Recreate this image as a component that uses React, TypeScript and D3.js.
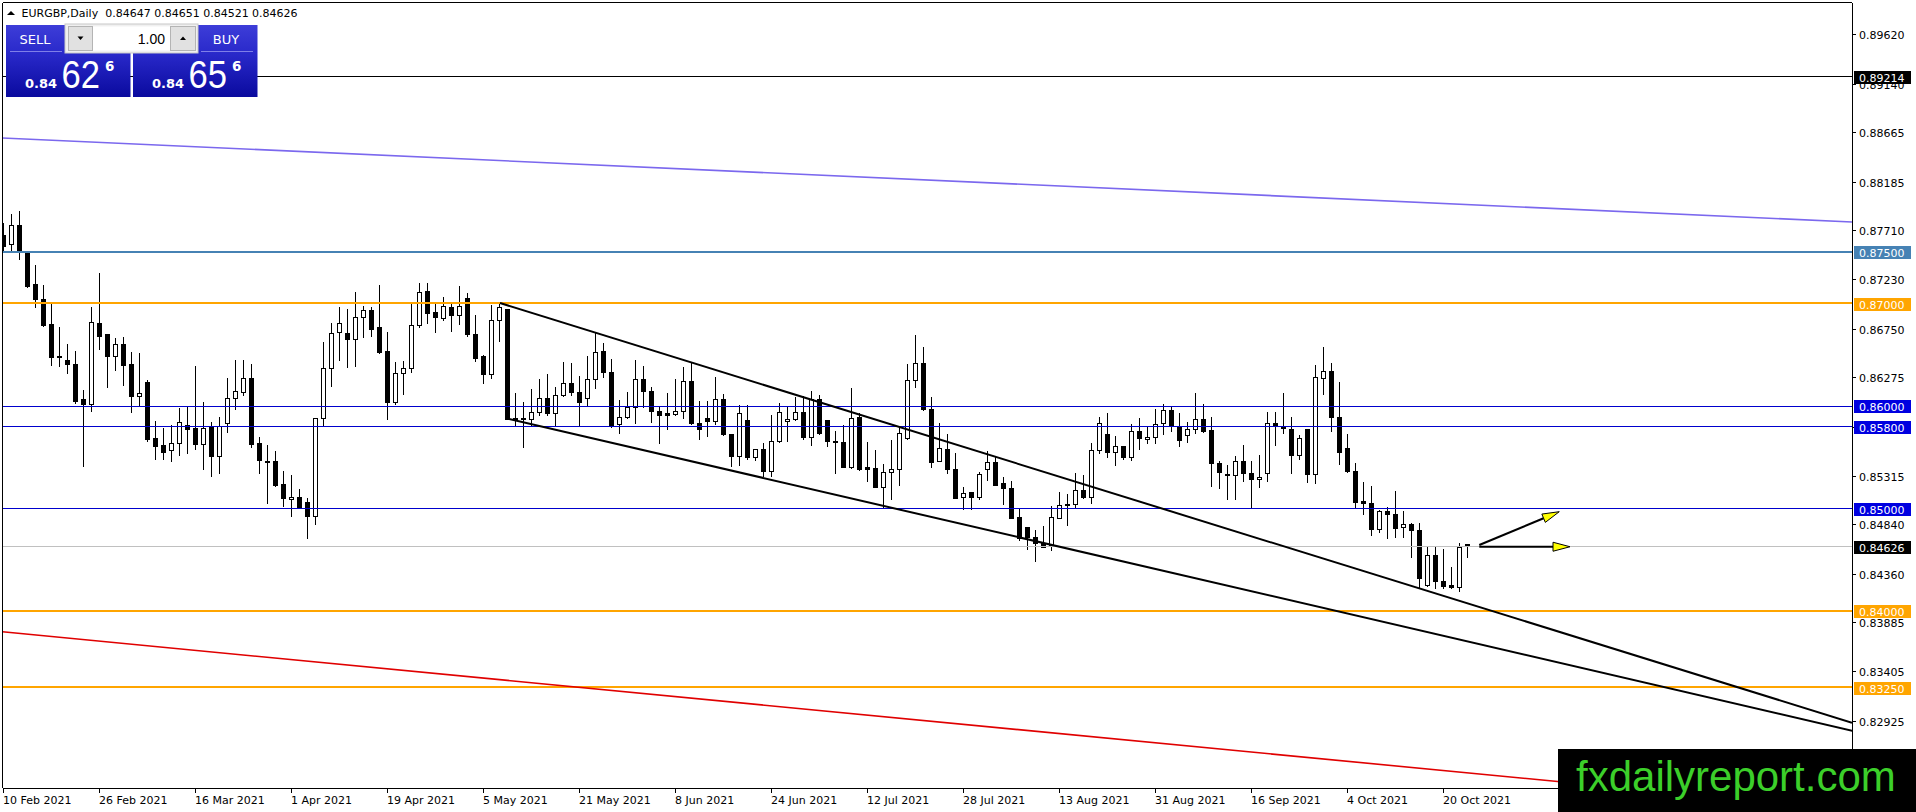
import React from "react";
import * as d3 from "d3";

// ---------- data ----------
const barOpen = [
  0.87663, 0.87576, 0.87761, 0.87495, 0.87185, 0.87035, 0.86795, 0.86480, 0.86444, 0.86405,
  0.86063, 0.86015, 0.86808, 0.86698, 0.86480, 0.86597, 0.86405, 0.86096, 0.86229, 0.85683,
  0.85615, 0.85563, 0.85631, 0.85813, 0.85780, 0.85621, 0.85790, 0.85510, 0.85826, 0.86070,
  0.86129, 0.86265, 0.85631, 0.85456, 0.85456, 0.85231, 0.85085, 0.85104, 0.85055, 0.84919,
  0.85875, 0.86363, 0.86714, 0.86704, 0.86646, 0.86860, 0.86932, 0.86763, 0.86532, 0.86034,
  0.86314, 0.86363, 0.86782, 0.87114, 0.86912, 0.86857, 0.86958, 0.86880, 0.87046, 0.86698,
  0.86486, 0.86304, 0.86834, 0.86939, 0.85881, 0.85881, 0.85865, 0.85940, 0.86070, 0.85924,
  0.86100, 0.86216, 0.86129, 0.86076, 0.86256, 0.86529, 0.86324, 0.85820, 0.85885, 0.85982,
  0.86261, 0.86139, 0.85943, 0.85930, 0.85914, 0.85943, 0.86236, 0.85826, 0.85875, 0.85846,
  0.86066, 0.85719, 0.85504, 0.85859, 0.85495, 0.85573, 0.85364, 0.85651, 0.85849, 0.85865,
  0.85934, 0.85690, 0.86063, 0.85859, 0.85651, 0.85641, 0.85397, 0.85885, 0.85397, 0.85387,
  0.85208, 0.85354, 0.85378, 0.85680, 0.86249, 0.86418, 0.85963, 0.85461, 0.85573, 0.85378,
  0.85104, 0.85156, 0.85110, 0.85378, 0.85452, 0.85241, 0.85192, 0.84909, 0.84812, 0.84720,
  0.84661, 0.84636, 0.84905, 0.85026, 0.85036, 0.85173, 0.85104, 0.85563, 0.85722, 0.85543,
  0.85605, 0.85495, 0.85754, 0.85673, 0.85696, 0.85826, 0.85956, 0.85803, 0.85709, 0.85768,
  0.85868, 0.85761, 0.85436, 0.85332, 0.85319, 0.85456, 0.85338, 0.85280, 0.85338, 0.85826,
  0.85793, 0.85768, 0.85520, 0.85768, 0.85329, 0.86265, 0.86334, 0.85885, 0.85582, 0.85358,
  0.85065, 0.85046, 0.84792, 0.84968, 0.84941, 0.84812, 0.84841, 0.84785, 0.84246, 0.84541,
  0.84288, 0.84249, 0.84226, 0.84647,
];
const barHigh = [
  0.87783, 0.87868, 0.87898, 0.87505, 0.87371, 0.87176, 0.86990, 0.86769, 0.86600, 0.86532,
  0.86151, 0.86964, 0.87296, 0.86700, 0.86659, 0.86671, 0.86522, 0.86509, 0.86249, 0.85852,
  0.85780, 0.85807, 0.85973, 0.85982, 0.86385, 0.86034, 0.85842, 0.85888, 0.86265, 0.86444,
  0.86444, 0.86405, 0.85696, 0.85612, 0.85553, 0.85361, 0.85322, 0.85188, 0.85095, 0.85880,
  0.86617, 0.86802, 0.86958, 0.86941, 0.87107, 0.86971, 0.86958, 0.87173, 0.86717, 0.86424,
  0.86434, 0.86990, 0.87192, 0.87192, 0.86990, 0.87061, 0.86997, 0.87166, 0.87095, 0.86883,
  0.86493, 0.86978, 0.86990, 0.86945, 0.86119, 0.86034, 0.86158, 0.86256, 0.86307, 0.86183,
  0.86421, 0.86412, 0.86291, 0.86486, 0.86704, 0.86607, 0.86451, 0.86054, 0.86132, 0.86444,
  0.86385, 0.86178, 0.85995, 0.86119, 0.86256, 0.86373, 0.86412, 0.86047, 0.86047, 0.86275,
  0.86112, 0.85722, 0.86002, 0.86002, 0.85576, 0.85631, 0.85904, 0.86027, 0.85982, 0.86086,
  0.86093, 0.86144, 0.86100, 0.85862, 0.85748, 0.85813, 0.86171, 0.85930, 0.85647, 0.85566,
  0.85426, 0.85663, 0.85793, 0.86405, 0.86688, 0.86568, 0.86080, 0.85826, 0.85719, 0.85540,
  0.85208, 0.85160, 0.85354, 0.85559, 0.85500, 0.85305, 0.85266, 0.84987, 0.84815, 0.84785,
  0.84824, 0.85020, 0.85159, 0.85137, 0.85344, 0.85322, 0.85631, 0.85885, 0.85924, 0.85702,
  0.85608, 0.85820, 0.85875, 0.85793, 0.85969, 0.86012, 0.85995, 0.85924, 0.85842, 0.86119,
  0.86015, 0.85885, 0.85459, 0.85420, 0.85510, 0.85615, 0.85459, 0.85517, 0.85940, 0.85940,
  0.86125, 0.85891, 0.85712, 0.85771, 0.86395, 0.86574, 0.86418, 0.86232, 0.85719, 0.85436,
  0.85254, 0.85215, 0.84980, 0.85007, 0.85166, 0.84974, 0.84851, 0.84851, 0.84629, 0.84622,
  0.84603, 0.84427, 0.84661, 0.84651,
];
const barLow = [
  0.87500, 0.87510, 0.87426, 0.87159, 0.86958, 0.86780, 0.86395, 0.86389, 0.86320, 0.86021,
  0.85413, 0.85949, 0.86548, 0.86183, 0.86346, 0.86200, 0.85940, 0.86005, 0.85651, 0.85481,
  0.85481, 0.85461, 0.85517, 0.85534, 0.85573, 0.85384, 0.85315, 0.85338, 0.85744, 0.85963,
  0.86100, 0.85598, 0.85338, 0.85046, 0.85215, 0.85020, 0.84922, 0.85007, 0.84704, 0.84844,
  0.85800, 0.86193, 0.86444, 0.86379, 0.86385, 0.86671, 0.86678, 0.86515, 0.85868, 0.86015,
  0.86112, 0.86327, 0.86769, 0.86808, 0.86720, 0.86834, 0.86730, 0.86795, 0.86678, 0.86437,
  0.86220, 0.86271, 0.86632, 0.85865, 0.85810, 0.85592, 0.85810, 0.85907, 0.85904, 0.85800,
  0.86093, 0.86105, 0.85810, 0.85995, 0.86171, 0.86278, 0.85793, 0.85735, 0.85880, 0.85832,
  0.85988, 0.85842, 0.85637, 0.85768, 0.85904, 0.85875, 0.85823, 0.85670, 0.85705, 0.85820,
  0.85716, 0.85410, 0.85420, 0.85475, 0.85468, 0.85312, 0.85312, 0.85648, 0.85651, 0.85862,
  0.85670, 0.85618, 0.85726, 0.85608, 0.85338, 0.85400, 0.85394, 0.85375, 0.85263, 0.85205,
  0.85007, 0.85088, 0.85221, 0.85677, 0.86183, 0.85956, 0.85397, 0.85458, 0.85344, 0.85095,
  0.84987, 0.84987, 0.85085, 0.85273, 0.85221, 0.85036, 0.84899, 0.84688, 0.84597, 0.84486,
  0.84616, 0.84590, 0.84899, 0.84834, 0.85013, 0.85101, 0.85046, 0.85540, 0.85495, 0.85417,
  0.85481, 0.85468, 0.85573, 0.85631, 0.85637, 0.85722, 0.85754, 0.85608, 0.85647, 0.85729,
  0.85744, 0.85218, 0.85192, 0.85088, 0.85088, 0.85266, 0.84997, 0.85208, 0.85263, 0.85615,
  0.85729, 0.85344, 0.85478, 0.85257, 0.85241, 0.86112, 0.85754, 0.85426, 0.85354, 0.85013,
  0.84941, 0.84734, 0.84769, 0.84704, 0.84714, 0.84714, 0.84525, 0.84226, 0.84239, 0.84217,
  0.84217, 0.84217, 0.84193, 0.84521,
];
const barClose = [
  0.87556, 0.87761, 0.87500, 0.87166, 0.87039, 0.86785, 0.86476, 0.86478, 0.86402, 0.86044,
  0.86012, 0.86812, 0.86681, 0.86486, 0.86597, 0.86398, 0.86096, 0.86119, 0.85676, 0.85608,
  0.85549, 0.85631, 0.85836, 0.85774, 0.85621, 0.85777, 0.85510, 0.85803, 0.86070, 0.86139,
  0.86265, 0.85627, 0.85471, 0.85452, 0.85224, 0.85095, 0.85107, 0.85010, 0.84919, 0.85875,
  0.86363, 0.86704, 0.86802, 0.86649, 0.86860, 0.86929, 0.86749, 0.86522, 0.86034, 0.86320,
  0.86363, 0.86782, 0.87110, 0.86905, 0.86860, 0.86968, 0.86880, 0.86968, 0.86695, 0.86466,
  0.86304, 0.86834, 0.86958, 0.85871, 0.85865, 0.85865, 0.85940, 0.86070, 0.85924, 0.86100,
  0.86222, 0.86135, 0.86037, 0.86256, 0.86525, 0.86324, 0.85810, 0.85891, 0.85982, 0.86261,
  0.86139, 0.85943, 0.85904, 0.85904, 0.85949, 0.86236, 0.85826, 0.85768, 0.85846, 0.86066,
  0.85719, 0.85504, 0.85930, 0.85495, 0.85573, 0.85364, 0.85651, 0.85940, 0.85868, 0.85934,
  0.85690, 0.86063, 0.85729, 0.85654, 0.85641, 0.85403, 0.85878, 0.85378, 0.85380, 0.85208,
  0.85354, 0.85378, 0.85729, 0.86249, 0.86418, 0.85963, 0.85452, 0.85582, 0.85378, 0.85101,
  0.85143, 0.85110, 0.85329, 0.85452, 0.85224, 0.85192, 0.84905, 0.84710, 0.84720, 0.84661,
  0.84622, 0.84909, 0.85026, 0.85036, 0.85173, 0.85104, 0.85563, 0.85832, 0.85543, 0.85605,
  0.85495, 0.85754, 0.85680, 0.85696, 0.85817, 0.85956, 0.85800, 0.85666, 0.85768, 0.85868,
  0.85754, 0.85436, 0.85354, 0.85322, 0.85456, 0.85338, 0.85280, 0.85305, 0.85826, 0.85800,
  0.85777, 0.85520, 0.85680, 0.85329, 0.86275, 0.86334, 0.85885, 0.85549, 0.85364, 0.85061,
  0.85046, 0.84792, 0.84971, 0.84941, 0.84808, 0.84841, 0.84785, 0.84314, 0.84541, 0.84288,
  0.84242, 0.84226, 0.84622, 0.84626,
];

const dateLabelBars = [0, 12, 24, 36, 48, 60, 72, 84, 96, 108, 120, 132, 144, 156, 168, 180];
const dateLabels = [
  "10 Feb 2021", "26 Feb 2021", "16 Mar 2021", "1 Apr 2021", "19 Apr 2021", "5 May 2021",
  "21 May 2021", "8 Jun 2021", "24 Jun 2021", "12 Jul 2021", "28 Jul 2021", "13 Aug 2021",
  "31 Aug 2021", "16 Sep 2021", "4 Oct 2021", "20 Oct 2021",
];
const priceTicks = [
  0.8962, 0.8914, 0.88665, 0.88185, 0.8771, 0.8723, 0.8675, 0.86275, 0.85795, 0.85315,
  0.8484, 0.8436, 0.83885, 0.83405, 0.82925,
];
const levelPrices = [0.89214, 0.875, 0.87, 0.86, 0.858, 0.85, 0.84626, 0.84, 0.8325];
const levelKinds = ["black", "steel", "orange", "blue", "blue", "blue", "bid", "orange", "orange"];

const channelUpper: [number, number][] = [[62, 0.87], [231, 0.82905]];
const channelLower: [number, number][] = [[63, 0.85871], [231.04, 0.82827]];
const slateLine: [number, number][] = [[-0.19, 0.8861], [231, 0.8779]];
const redLine: [number, number][] = [[-0.19, 0.83792], [231, 0.82055]];
const arrowUp: [number, number][] = [[184.41, 0.84639], [194.41, 0.84964]];
const arrowFlat: [number, number][] = [[184.41, 0.84622], [195.75, 0.84622]];

const headerText = "EURGBP,Daily  0.84647 0.84651 0.84521 0.84626";
const sellPrice = ["0.84", "62", "6"];
const buyPrice = ["0.84", "65", "6"];
const lotText = "1.00";
const watermark = "fxdailyreport.com";

// ---------- styles ----------
const FONT = "'DejaVu Sans', Verdana, sans-serif";
const SANS = "'Liberation Sans', Arial, sans-serif";
const kindStyle: Record<string, { line: string; width: number; box: string }> = {
  black: { line: "#000000", width: 1, box: "#000000" },
  steel: { line: "#4682B4", width: 2, box: "#4682B4" },
  orange: { line: "#FFA500", width: 2, box: "#FFA500" },
  blue: { line: "#0000CD", width: 1, box: "#0000E0" },
  bid: { line: "#C0C0C0", width: 1, box: "#000000" },
};

const W = 1916;
const H = 812;
const PL = 2.5;
const PT = 2.5;
const PR = 1852;
const PB = 788;

export default function App() {
  const x = d3.scaleLinear().domain([0, 183]).range([4, 1468]);
  const y = d3.scaleLinear().domain([0.85, 0.87]).range([508, 303]);
  const snap = (v: number) => Math.round(v) + 0.5;
  const lineGen = d3
    .line<[number, number]>()
    .x((d) => x(d[0]))
    .y((d) => y(d[1]));

  const arrow = (pts: [number, number][], key: string) => {
    const [x0, y0] = [x(pts[0][0]), y(pts[0][1])];
    const [x1, y1] = [x(pts[1][0]), y(pts[1][1])];
    const len = Math.hypot(x1 - x0, y1 - y0);
    const ux = (x1 - x0) / len;
    const uy = (y1 - y0) / len;
    const hl = 17;
    const hw = 4.5;
    const bx = x1 - ux * hl;
    const by = y1 - uy * hl;
    const p = [
      [x1, y1],
      [bx - uy * hw, by + ux * hw],
      [bx + uy * hw, by - ux * hw],
    ];
    return (
      <g key={key}>
        <line x1={x0} y1={y0} x2={bx} y2={by} stroke="#000" strokeWidth={2} />
        <polygon points={p.map((q) => q.join(",")).join(" ")} fill="#FFFF00" stroke="#000" strokeWidth={1} />
      </g>
    );
  };

  const tile = (tx: number, label: string, price: string[], key: string) => (
    <g key={key}>
      <rect x={tx} y={25} width={124.5} height={72} fill="url(#tileGrad)" />
      <line x1={tx + 4} x2={tx + 56} y1={51.5} y2={51.5} stroke="#7f7fe8" strokeWidth={1} />
      <line x1={tx + 68} x2={tx + 120} y1={51.5} y2={51.5} stroke="#7f7fe8" strokeWidth={1} />
      <text
        x={label === "SELL" ? tx + 29 : tx + 93}
        y={44}
        textAnchor="middle"
        fontFamily={FONT}
        fontSize={13}
        fill="#fff"
      >
        {label}
      </text>
      <text x={tx + 19} y={87.5} fontFamily={FONT} fontWeight="bold" fontSize={13} fill="#fff">
        {price[0]}
      </text>
      <text
        x={tx + 55.5}
        y={87.5}
        fontFamily={SANS}
        fontSize={38}
        fill="#fff"
        textLength={38.5}
        lengthAdjust="spacingAndGlyphs"
      >
        {price[1]}
      </text>
      <text x={tx + 99} y={71} fontFamily={FONT} fontWeight="bold" fontSize={13.5} fill="#fff">
        {price[2]}
      </text>
    </g>
  );

  return (
    <div style={{ position: "fixed", left: 0, top: 0, width: W, height: H, background: "#fff" }}>
      <svg width={W} height={H} viewBox={`0 0 ${W} ${H}`} style={{ display: "block" }}>
        <defs>
          <clipPath id="plot">
            <rect x={PL} y={PT} width={PR - PL} height={PB - PT} />
          </clipPath>
          <linearGradient id="tileGrad" x1="0" y1="0" x2="0" y2="1">
            <stop offset="0" stopColor="#3d3dd8" />
            <stop offset="0.38" stopColor="#2a2acb" />
            <stop offset="1" stopColor="#0a0a9e" />
          </linearGradient>
        </defs>
        <rect x={0} y={0} width={W} height={H} fill="#fff" />

        <g clipPath="url(#plot)">
          {/* candles */}
          <g shapeRendering="crispEdges">
            {barOpen.map((o, i) => {
              const c = barClose[i];
              const cx = x(i) - 0.5;
              const yt = snap(y(Math.max(o, c)));
              const yb = snap(y(Math.min(o, c)));
              const bull = c > o;
              return (
                <g key={i}>
                  <line x1={cx} x2={cx} y1={Math.round(y(barHigh[i]))} y2={Math.round(y(barLow[i])) + 1} stroke="#000" strokeWidth={1} />
                  <rect
                    x={cx - 2}
                    y={yt}
                    width={4}
                    height={Math.max(yb - yt, 0.01)}
                    fill={bull ? "#fff" : "#000"}
                    stroke="#000"
                    strokeWidth={1}
                  />
                </g>
              );
            })}
          </g>

          {/* horizontal levels */}
          <g shapeRendering="crispEdges">
            {levelPrices.map((p, i) => {
              const s = kindStyle[levelKinds[i]];
              const yy = s.width === 1 ? snap(y(p)) : Math.round(y(p));
              return <line key={i} x1={PL} x2={PR} y1={yy} y2={yy} stroke={s.line} strokeWidth={s.width} />;
            })}
          </g>

          {/* sloped lines */}
          <path d={lineGen(slateLine) || ""} stroke="#7B68EE" strokeWidth={1.6} fill="none" />
          <path d={lineGen(redLine) || ""} stroke="#E00000" strokeWidth={1.6} fill="none" />
          <path d={lineGen(channelUpper) || ""} stroke="#000" strokeWidth={2} fill="none" />
          <path d={lineGen(channelLower) || ""} stroke="#000" strokeWidth={2} fill="none" />
          {arrow(arrowUp, "a1")}
          {arrow(arrowFlat, "a2")}
        </g>

        {/* frame */}
        <g shapeRendering="crispEdges">
          <line x1={PL} x2={PR} y1={PT} y2={PT} stroke="#000" />
          <line x1={PL} x2={PL} y1={PT} y2={PB} stroke="#000" />
          <line x1={PR + 0.5} x2={PR + 0.5} y1={PT} y2={PB} stroke="#000" />
          <line x1={PL} x2={PR} y1={PB + 0.5} y2={PB + 0.5} stroke="#000" />
        </g>

        {/* price axis */}
        <g fontFamily={FONT} fontSize={11}>
          {priceTicks.map((p, i) => {
            const yy = snap(y(p));
            return (
              <g key={i}>
                <line x1={PR} x2={PR + 4} y1={yy} y2={yy} stroke="#000" shapeRendering="crispEdges" />
                <text x={1859} y={yy + 4} fill="#000">
                  {p.toFixed(5)}
                </text>
              </g>
            );
          })}
          {levelPrices.map((p, i) => {
            const s = kindStyle[levelKinds[i]];
            const yy = y(p) + 1;
            return (
              <g key={"l" + i}>
                <rect x={1854} y={Math.round(yy - 6.5)} width={57} height={13} fill={s.box} />
                <text x={1859} y={Math.round(yy - 6.5) + 10.5} fill="#fff">
                  {p.toFixed(5)}
                </text>
              </g>
            );
          })}
        </g>

        {/* time axis */}
        <g fontFamily={FONT} fontSize={11}>
          {dateLabelBars.map((b, i) => (
            <g key={i}>
              <line x1={x(b) - 0.5} x2={x(b) - 0.5} y1={PB} y2={PB + 5} stroke="#000" shapeRendering="crispEdges" />
              <text x={x(b) - 1} y={804} fill="#000">
                {dateLabels[i]}
              </text>
            </g>
          ))}
        </g>

        {/* header */}
        <polygon points="7,15 11,11 15,15" fill="#000" />
        <text x={21.5} y={17.3} fontFamily={FONT} fontSize={11} fill="#000" style={{ whiteSpace: "pre" }}>
          {headerText}
        </text>

        {/* one-click trading panel */}
        {tile(6, "SELL", sellPrice, "sell")}
        {tile(133, "BUY", buyPrice, "buy")}
        <g>
          <rect x={65} y={24} width={133} height={29} fill="#f0f0f0" stroke="#c8c8c8" />
          <rect x={68.5} y={26.5} width={24} height={24} fill="#e1e1e1" stroke="#b4b4b4" />
          <rect x={93} y={26.5} width={77} height={24} fill="#ffffff" />
          <rect x={170.5} y={26.5} width={25} height={24} fill="#e1e1e1" stroke="#b4b4b4" />
          <polygon points="77.5,36.5 83.5,36.5 80.5,40" fill="#000" />
          <polygon points="180,40 186,40 183,36.5" fill="#000" />
          <text x={165} y={43.5} textAnchor="end" fontFamily={SANS} fontSize={14} fill="#000">
            {lotText}
          </text>
        </g>

        {/* watermark */}
        <rect x={1558} y={749} width={W - 1558} height={H - 749} fill="#000" />
        <text x={1576} y={790.7} fontFamily={SANS} fontSize={42} fill="#3CCF2A">
          {watermark}
        </text>
      </svg>
    </div>
  );
}
